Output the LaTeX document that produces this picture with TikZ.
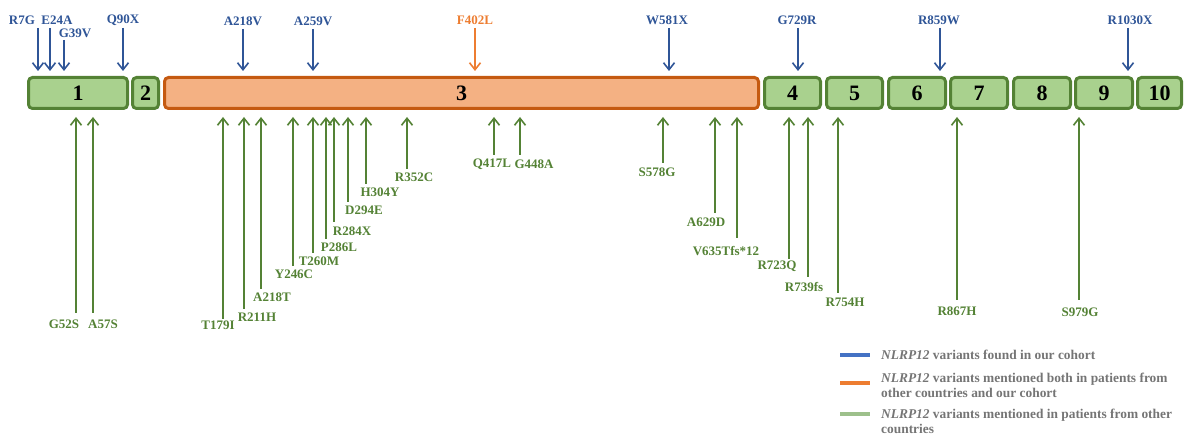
\documentclass[tikz,border=0pt]{standalone}
\usepackage{fontspec}
\setmainfont{Liberation Serif}
\usetikzlibrary{arrows.meta}
\definecolor{gfill}{HTML}{A9D18E}
\definecolor{gdraw}{HTML}{548235}
\definecolor{ofill}{HTML}{F4B183}
\definecolor{odraw}{HTML}{C55A11}
\definecolor{bvar}{HTML}{2F5597}
\definecolor{ovar}{HTML}{ED7D31}
\definecolor{gvar}{HTML}{548235}
\definecolor{legblue}{HTML}{4472C4}
\definecolor{leggreen}{HTML}{9DC08B}
\definecolor{legtext}{HTML}{757575}
\tikzset{
  exon/.style={draw=gdraw, fill=gfill, line width=3pt, rounded corners=4pt, minimum height=31pt, inner sep=0pt,
    font=\fontsize{22}{24}\selectfont\bfseries},
  exonthree/.style={exon, draw=odraw, fill=ofill},
  varlab/.style={inner sep=0pt, font=\fontsize{13}{15}\selectfont\bfseries},
  bluelab/.style={varlab, text=bvar},
  orangelab/.style={varlab, text=ovar},
  greenlab/.style={varlab, text=gvar},
  varrow/.style={line width=1.6pt, -{Straight Barb[length=7pt,width=11pt,line width=1.6pt]}},
  bluearrow/.style={varrow, draw=bvar},
  orangearrow/.style={varrow, draw=ovar},
  greenarrow/.style={varrow, draw=gvar},
  legline/.style={line width=3.5pt},
  legtxt/.style={inner sep=0pt, anchor=west, align=left, text=legtext, font=\fontsize{13.4}{15}\selectfont\bfseries}
}
\begin{document}
\begin{tikzpicture}[x=1pt,y=-1pt]
\path[use as bounding box] (0,0) rectangle (1184,435);
% exons
\node[exon, minimum width=99pt] (e1) at (78,93) {1};
\node[exon, minimum width=26pt] (e2) at (145.5,93) {2};
\node[exonthree, minimum width=594pt] (e3) at (461.5,93) {3};
\node[exon, minimum width=56pt] (e4) at (792.5,93) {4};
\node[exon, minimum width=56pt] (e5) at (854.5,93) {5};
\node[exon, minimum width=57pt] (e6) at (917,93) {6};
\node[exon, minimum width=57pt] (e7) at (979,93) {7};
\node[exon, minimum width=57pt] (e8) at (1042,93) {8};
\node[exon, minimum width=57pt] (e9) at (1104,93) {9};
\node[exon, minimum width=44pt] (e10) at (1159.5,93) {10};
% top variants (our cohort)
\foreach \n/\lx/\ly/\ax/\ty/\txt in {
  r7g/22/20/38/28/R7G, e24a/57/20/50/28/E24A, g39v/75/33/64/40/G39V, q90x/123/20/123/28/Q90X,
  a218v/243/21/243/29/A218V, a259v/313/21/313/29/A259V, w581x/667/20/669/28/W581X,
  g729r/797/20/798/28/G729R, r859w/939/20/940/28/R859W, r1030x/1130/20/1128/28/R1030X}{
  \node[bluelab] (l\n) at (\lx,\ly) {\txt};
  \coordinate (s\n) at (\ax,\ty);
  \coordinate (p\n) at (\ax,71);
  \draw[bluearrow] (s\n) -- (p\n);
}
\node[orangelab] (lf402l) at (475,20) {F402L};
\coordinate (sf402l) at (475,28);
\coordinate (pf402l) at (475,71);
\draw[orangearrow] (sf402l) -- (pf402l);
% bottom variants (other countries)
\foreach \n/\ax/\ty/\lx/\ly/\txt in {
  g52s/76/313/64/324/G52S, a57s/93/313/103/324/A57S,
  t179i/223/319/218/325/T179I, r211h/244/309/257/317/R211H, a218t/261/289/272/297/A218T,
  y246c/293/266/294/274/Y246C, t260m/313/253/319/261/T260M, p286l/326/239/339/247/P286L,
  r284x/334/222/352/231/R284X, d294e/348/202/364/210/D294E, h304y/366/184/380/192/H304Y,
  r352c/407/169/414/177/R352C, q417l/494/155/492/164/Q417L, g448a/520/155/534/164/G448A,
  s578g/663/163/657/172/S578G, a629d/715/213/706/222/A629D, v635t/737/238/726/251/V635Tfs*12,
  r723q/789/259/777/266/R723Q, r739fs/808/277/804/287/R739fs, r754h/838/293/845/302/R754H,
  r867h/957/300/957/311/R867H, s979g/1079/300/1080/312/S979G}{
  \node[greenlab] (l\n) at (\lx,\ly) {\txt};
  \coordinate (s\n) at (\ax,\ty);
  \coordinate (p\n) at (\ax,117);
  \draw[greenarrow] (s\n) -- (p\n);
}
% legend
\coordinate (lb1) at (840,355); \coordinate (lb2) at (870,355);
\draw[legline, draw=legblue] (lb1) -- (lb2);
\node[legtxt] (tb) at (881,355) {\textit{NLRP12} variants found in our cohort};
\coordinate (lo1) at (840,383); \coordinate (lo2) at (870,383);
\draw[legline, draw=ovar] (lo1) -- (lo2);
\node[legtxt] (to) at (881,385.5) {\textit{NLRP12} variants mentioned both in patients from\\other countries and our cohort};
\coordinate (lg1) at (840,414); \coordinate (lg2) at (870,414);
\draw[legline, draw=leggreen] (lg1) -- (lg2);
\node[legtxt] (tg) at (881,421) {\textit{NLRP12} variants mentioned in patients from other\\countries};
\end{tikzpicture}
\end{document}
